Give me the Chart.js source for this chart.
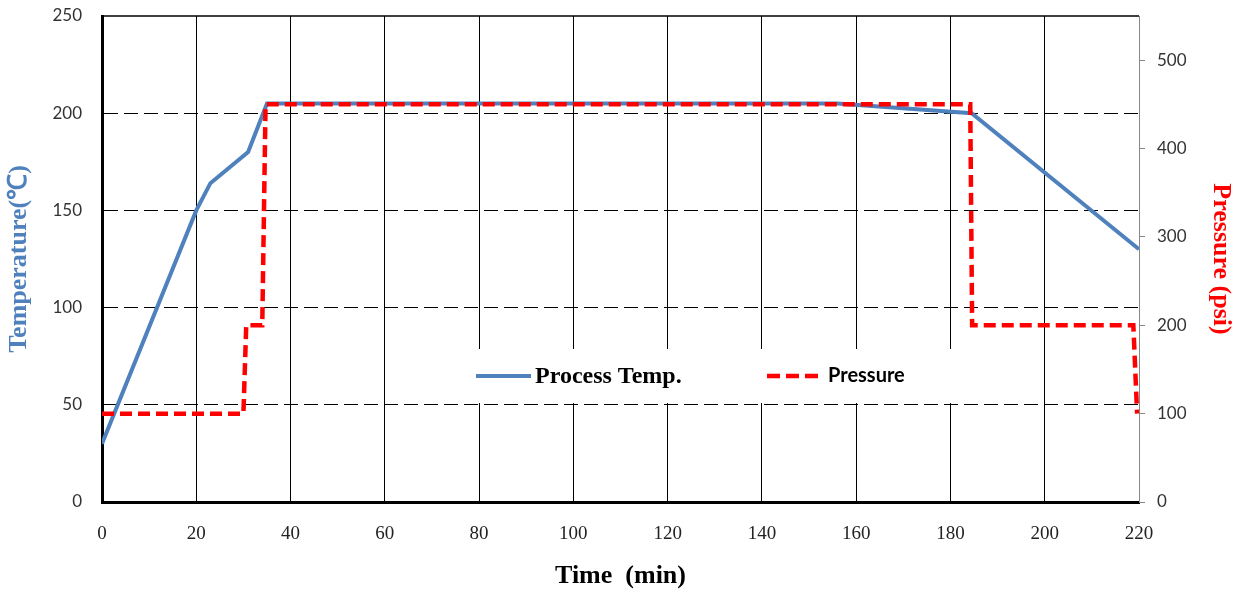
<!DOCTYPE html>
<html><head><meta charset="utf-8">
<script src="https://cdn.jsdelivr.net/npm/chart.js@4/dist/chart.umd.min.js"></script>
<style>html,body{margin:0;padding:0;background:#fff}#wrap{width:1242px;height:592px}</style>
</head><body><div id="wrap"><canvas id="c" width="1242" height="592"></canvas></div>
<script>
// ---- data ----
const timeTicks = [0, 20, 40, 60, 80, 100, 120, 140, 160, 180, 200, 220];
const tempTicks = [0, 50, 100, 150, 200, 250];
const pressureTicks = [0, 100, 200, 300, 400, 500];

const tempTime   = [0, 20, 23, 31, 35, 156, 184.5, 220];
const tempValues = [30, 150, 164, 180, 205, 205, 200, 130];

const pressureTime   = [0, 30, 30.6, 34, 34.7, 184.2, 184.6, 218.8, 219.6];
const pressureValues = [100, 100, 200, 200, 450, 450, 200, 200, 100];

const seriesLabels = ['Process Temp.', 'Pressure'];

// ---- helpers ----
const toPts = (xs, ys) => xs.map((x, i) => ({x: x, y: ys[i]}));
const fixedTicks = arr => scale => { scale.ticks = arr.map(v => ({value: v})); };
const tickFont = {family: 'Lato', size: 17};

const frameAndLegend = {
  id: 'frameAndLegend',
  beforeDatasetsDraw(chart) {
    const {ctx, chartArea: a} = chart;
    ctx.save();
    // solid top frame line
    ctx.strokeStyle = '#000';
    ctx.lineWidth = 1.5;
    ctx.beginPath();
    ctx.moveTo(a.left, a.top);
    ctx.lineTo(a.right, a.top);
    ctx.stroke();

    // legend box (white, covers grid lines)
    const ds = chart.data.datasets;
    const boxL = a.left + 330, boxT = a.top + 333, boxW = 530, boxH = 54;
    ctx.fillStyle = '#fff';
    ctx.fillRect(boxL, boxT, boxW, boxH);
    const cy = boxT + 27;
    // item 1
    ctx.strokeStyle = ds[0].borderColor;
    ctx.lineWidth = 4;
    ctx.setLineDash([]);
    ctx.beginPath();
    ctx.moveTo(boxL + 44, cy); ctx.lineTo(boxL + 99, cy); ctx.stroke();
    ctx.fillStyle = '#000';
    ctx.textBaseline = 'middle';
    ctx.textAlign = 'left';
    ctx.font = 'bold 24px "Liberation Serif"';
    ctx.fillText(ds[0].label, boxL + 103, cy + 1);
    // item 2
    ctx.strokeStyle = ds[1].borderColor;
    ctx.lineWidth = 4.5;
    ctx.setLineDash([13, 6]);
    ctx.beginPath();
    ctx.moveTo(boxL + 335, cy); ctx.lineTo(boxL + 389, cy); ctx.stroke();
    ctx.setLineDash([]);
    ctx.font = 'bold 20px Lato';
    ctx.fillText(ds[1].label, boxL + 396, cy);
    ctx.restore();
  }
};

new Chart(document.getElementById('c'), {
  type: 'line',
  data: {
    datasets: [
      {
        label: seriesLabels[0],
        data: toPts(tempTime, tempValues),
        yAxisID: 'y',
        borderColor: '#4F81BD',
        borderWidth: 4,
        pointRadius: 0,
        tension: 0,
        fill: false,
        order: 1
      },
      {
        label: seriesLabels[1],
        data: toPts(pressureTime, pressureValues),
        yAxisID: 'y1',
        borderColor: '#FF0000',
        borderWidth: 4.5,
        borderDash: [12, 6],
        pointRadius: 0,
        tension: 0,
        fill: false,
        order: 0
      }
    ]
  },
  options: {
    responsive: false,
    animation: false,
    layout: {padding: {top: 16, left: 0, right: 0, bottom: 0}},
    plugins: {legend: {display: false}, tooltip: {enabled: false}},
    scales: {
      x: {
        type: 'linear',
        min: 0, max: 220,
        afterBuildTicks: fixedTicks(timeTicks),
        afterFit: s => { s.height = 90; s.paddingLeft = 0; s.paddingRight = 0; },
        ticks: {font: {family: 'Liberation Serif', size: 19}, color: '#222', padding: 21, maxRotation: 0},
        grid: {
          color: c => (c.tick && (c.tick.value === 0 || c.tick.value === 220)) ? 'rgba(0,0,0,0)' : '#000',
          lineWidth: 1,
          drawTicks: false
        },
        border: {color: '#000', width: 3},
        title: {display: true, text: 'Time  (min)', color: '#000',
          font: {family: 'Liberation Serif', size: 26, weight: 'bold'}, padding: {top: 0, bottom: 0}}
      },
      y: {
        type: 'linear',
        position: 'left',
        min: 0, max: 250,
        afterBuildTicks: fixedTicks(tempTicks),
        afterFit: s => { s.width = 102; s.paddingTop = 0; s.paddingBottom = 0; },
        ticks: {font: tickFont, color: '#333', padding: 20},
        grid: {
          color: c => (c.tick && (c.tick.value === 0 || c.tick.value === 250)) ? 'rgba(0,0,0,0)' : '#000',
          lineWidth: 1,
          drawTicks: false
        },
        border: {color: '#000', width: 3, dash: [14, 6]},
        title: {display: true, text: 'Temperature(℃)', color: '#4F81BD',
          font: {family: 'Liberation Serif', size: 26, weight: 'bold'}, padding: {top: 4, bottom: 0}}
      },
      y1: {
        type: 'linear',
        position: 'right',
        min: 0, max: 550,
        afterBuildTicks: fixedTicks(pressureTicks),
        afterFit: s => { s.width = 103; s.paddingTop = 0; s.paddingBottom = 0; },
        ticks: {font: tickFont, color: '#333', padding: 12},
        grid: {drawOnChartArea: false, drawTicks: true, tickLength: 6, tickColor: '#888', color: '#888'},
        border: {color: '#888', width: 1},
        title: {display: true, text: 'Pressure (psi)', color: '#FF0000',
          font: {family: 'Liberation Serif', size: 26, weight: 'bold'}, padding: {top: 6, bottom: 0}}
      }
    }
  },
  plugins: [frameAndLegend]
});
</script>
</body></html>
